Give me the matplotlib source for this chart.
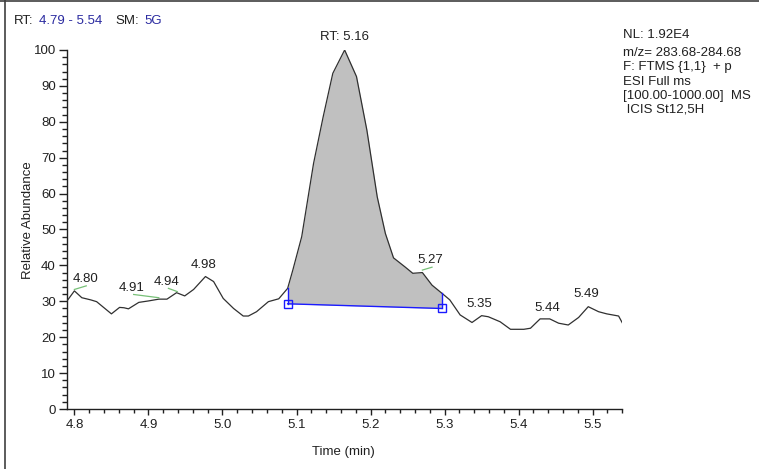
import matplotlib
matplotlib.use("Agg")
import matplotlib.pyplot as plt
import numpy as np
from matplotlib.lines import Line2D
from matplotlib.ticker import MultipleLocator

plt.rcParams['font.family'] = ['Liberation Sans', 'DejaVu Sans']
plt.rcParams['font.size'] = 9.5

# --- data -------------------------------------------------------------
time_min = [4.790, 4.800, 4.810, 4.822, 4.830, 4.850, 4.861, 4.867, 4.873, 4.887,
            4.900, 4.914, 4.925, 4.938, 4.949, 4.961, 4.977, 4.988, 5.001, 5.015,
            5.028, 5.035, 5.046, 5.062, 5.076, 5.088, 5.095, 5.107, 5.123, 5.136,
            5.149, 5.165, 5.181, 5.195, 5.209, 5.220, 5.231, 5.247, 5.257, 5.270,
            5.283, 5.296, 5.307, 5.321, 5.337, 5.350, 5.359, 5.375, 5.389, 5.407,
            5.416, 5.429, 5.442, 5.454, 5.467, 5.481, 5.494, 5.508, 5.519, 5.535,
            5.540]
abundance = [30.1, 32.9, 31.0, 30.4, 29.9, 26.5, 28.3, 28.2, 27.9, 29.7,
             30.1, 30.6, 30.6, 32.4, 31.5, 33.3, 36.9, 35.5, 30.8, 28.0,
             25.9, 25.9, 27.1, 29.9, 30.7, 33.6, 38.7, 48.0, 68.4, 81.4,
             93.5, 100.0, 92.6, 77.7, 59.1, 48.9, 42.1, 39.5, 37.8, 38.0,
             34.5, 32.3, 30.4, 26.2, 24.1, 26.0, 25.7, 24.3, 22.2, 22.2,
             22.5, 25.1, 25.1, 23.9, 23.4, 25.5, 28.5, 27.1, 26.5, 25.9,
             24.0]

# integrated peak: start/end time and baseline levels
peak_start, peak_end = 5.088, 5.296
base_start, base_end = 29.3, 28.0

# peak labels (text, x, y)
label_text = ["4.80", "4.91", "4.94", "4.98", "RT: 5.16", "5.27", "5.35", "5.44", "5.49"]
label_x = [4.815, 4.877, 4.924, 4.974, 5.165, 5.281, 5.347, 5.439, 5.492]
label_y = [36.2, 33.7, 35.4, 40.1, 103.6, 41.5, 29.2, 28.2, 32.0]

# short green tick marks at labelled apexes
green_x = [(4.800, 4.816), (4.880, 4.914), (4.927, 4.939), (5.270, 5.283)]
green_y = [(33.3, 34.3), (31.9, 31.0), (33.6, 32.7), (38.7, 39.5)]

info_lines = ["NL: 1.92E4", "m/z= 283.68-284.68", "F: FTMS {1,1}  + p",
              "ESI Full ms", "[100.00-1000.00]  MS", " ICIS St12,5H"]

W, H = 759, 469
fig = plt.figure(figsize=(W / 100, H / 100), dpi=100)
ax = fig.add_axes([67 / W, 1 - 409 / H, (622.3 - 67) / W, (409 - 50) / H])

t = np.array(time_min)
a = np.array(abundance)

# fill of integrated peak
mask = (t >= peak_start) & (t <= peak_end)
tf = t[mask]
af = a[mask]
base = base_start + (tf - peak_start) / (peak_end - peak_start) * (base_end - base_start)
ax.fill_between(tf, base, af, color='#c0c0c0', lw=0, zorder=1)

ax.plot(t, a, color='#303030', lw=0.9, zorder=3)

# baseline
blue = '#1a1aff'
ax.plot([peak_start, peak_end], [base_start, base_end], color=blue, lw=1.0, zorder=4)
ax.plot([peak_start, peak_start], [base_start, np.interp(peak_start, t, a)], color=blue, lw=1.0, zorder=4)
ax.plot([peak_end, peak_end], [base_end, np.interp(peak_end, t, a)], color=blue, lw=1.0, zorder=4)
ax.plot([peak_start, peak_end], [base_start, base_end], ls='none', marker='s', ms=5.5,
        mfc='none', mec=blue, mew=1.0, zorder=5)

for gx, gy in zip(green_x, green_y):
    ax.plot(gx, gy, color='#77c077', lw=0.9, zorder=4)

for s, x, y in zip(label_text, label_x, label_y):
    ax.text(x, y, s, ha='center', va='center', color='#202020', clip_on=False)

ax.set_xlim(4.79, 5.54)
ax.set_ylim(0, 100)
ax.xaxis.set_minor_locator(MultipleLocator(0.02))
ax.yaxis.set_major_locator(MultipleLocator(10))
ax.yaxis.set_minor_locator(MultipleLocator(2))
ax.set_xticks(np.arange(4.8, 5.51, 0.1))
ax.set_xticklabels(['4.8', '4.9', '5.0', '5.1', '5.2', '5.3', '5.4', '5.5'])

for sp in ['top', 'right']:
    ax.spines[sp].set_visible(False)
for sp in ['left', 'bottom']:
    ax.spines[sp].set_linewidth(1.0)
    ax.spines[sp].set_color('#202020')

ax.tick_params(axis='x', which='major', length=4.5, width=1.0, pad=3, colors='#202020')
ax.tick_params(axis='x', which='minor', length=3, width=1.0, colors='#202020')
ax.tick_params(axis='y', which='major', length=6, width=1.0, pad=2, colors='#202020')
ax.tick_params(axis='y', which='minor', length=3.5, width=1.0, colors='#202020')

fig.text(343 / W, 1 - 452 / H, "Time (min)", ha='center', va='center', color='#202020')
fig.text(28 / W, 1 - 220 / H, "Relative Abundance", ha='center', va='center',
         rotation=90, color='#202020')

# header
hblue = '#2a2aa0'
hy = 1 - 20.7 / H
fig.text(13.7 / W, hy, "RT:", ha='left', va='center', color='#202020')
fig.text(39 / W, hy, "4.79 - 5.54", ha='left', va='center', color=hblue)
fig.text(115 / W, hy, "SM:", ha='left', va='center', color='#202020')
fig.text(144 / W, hy, "5G", ha='left', va='center', color=hblue)

info_y = [35, 53, 67, 82, 96, 110]
for s, y in zip(info_lines, info_y):
    fig.text(623 / W, 1 - y / H, s, ha='left', va='center', color='#202020')

# frame lines
fig.add_artist(Line2D([5 / W, 5 / W], [0, 1], transform=fig.transFigure, color='#404040', lw=1.2))
fig.add_artist(Line2D([0, 1], [1 - 1.5 / H, 1 - 1.5 / H], transform=fig.transFigure, color='#404040', lw=1.2))

fig.savefig("out.png", dpi=100)
